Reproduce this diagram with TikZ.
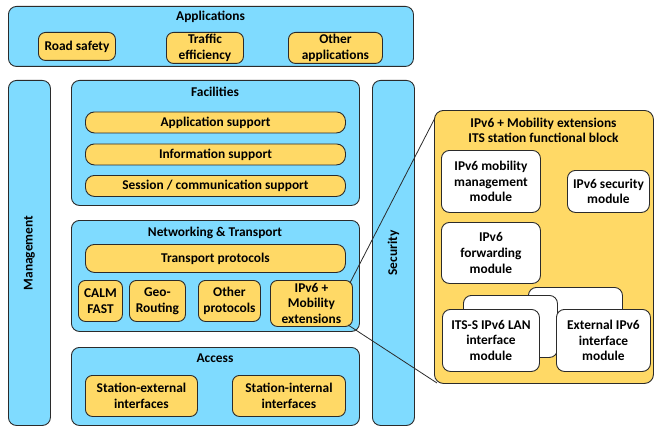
\documentclass[tikz,border=0pt]{standalone}
\usepackage{fontspec}
\setmainfont{Carlito}
\definecolor{lblue}{HTML}{7FDBFF}
\definecolor{lyel}{HTML}{FFD966}
\definecolor{edge}{HTML}{2B2B2B}
\begin{document}
\begin{tikzpicture}[x=1pt,y=-1pt,
  every node/.style={font=\fontsize{13.4}{15.6}\selectfont\bfseries, text=black, inner sep=0pt, align=center},
  bluebox/.style={draw=edge, line width=0.9pt, fill=lblue, rounded corners=8pt, anchor=north west},
  yelbox/.style={draw=edge, line width=0.9pt, fill=lyel, rounded corners=7pt, anchor=north west},
  whitebox/.style={draw=edge, line width=0.9pt, fill=white, rounded corners=8pt, anchor=north west},
  ttl/.style={anchor=center}]
\useasboundingbox (0,0) rectangle (656,428);
% Applications
\node[bluebox, minimum width=405pt, minimum height=60pt] (app) at (8,6) {};
\node[ttl] (appt) at (210.5,17) {Applications};
\node[yelbox, minimum width=77pt, minimum height=28pt] (road) at (38,32) {Road safety};
\node[yelbox, minimum width=77pt, minimum height=31pt] (traf) at (166,32) {Traffic\\efficiency};
\node[yelbox, minimum width=94pt, minimum height=31pt] (oth) at (288,32) {Other\\applications};
% Management & Security
\node[bluebox, minimum width=42pt, minimum height=345pt] (mgmt) at (8,80) {};
\node[rotate=90] (mgmtt) at (mgmt.center) {Management};
\node[bluebox, minimum width=42pt, minimum height=345pt] (sec) at (372,80) {};
\node[rotate=90] (sect) at (sec.center) {Security};
% Facilities
\node[bluebox, minimum width=288pt, minimum height=125pt] (fac) at (71,80) {};
\node[ttl] (fact) at (215,92) {Facilities};
\node[yelbox, rounded corners=9pt, minimum width=260pt, minimum height=21pt] (as) at (85,111.5) {Application support};
\node[yelbox, rounded corners=9pt, minimum width=260pt, minimum height=21pt] (is) at (85,143.5) {Information support};
\node[yelbox, rounded corners=9pt, minimum width=260pt, minimum height=21pt] (ss) at (85,175) {Session / communication support};
% Networking & Transport
\node[bluebox, minimum width=288pt, minimum height=111pt] (net) at (71,220) {};
\node[ttl] (nett) at (215,233) {Networking \& Transport};
\node[yelbox, rounded corners=9pt, minimum width=260pt, minimum height=28pt] (tp) at (85,244) {Transport protocols};
\node[yelbox, minimum width=44pt, minimum height=41pt] (calm) at (78,280) {CALM\\FAST};
\node[yelbox, minimum width=56pt, minimum height=41pt] (geo) at (129,280) {Geo-\\Routing};
\node[yelbox, minimum width=62pt, minimum height=41pt] (op) at (198,280) {Other\\protocols};
\node[yelbox, minimum width=82pt, minimum height=46pt] (ipv6) at (270,280) {IPv6 +\\Mobility\\extensions};
% Access
\node[bluebox, minimum width=288pt, minimum height=78pt] (acc) at (71,347) {};
\node[ttl] (acct) at (215,358) {Access};
\node[yelbox, minimum width=112pt, minimum height=41pt] (se) at (85,375) {Station-external\\interfaces};
\node[yelbox, minimum width=113pt, minimum height=41pt] (si) at (232,375) {Station-internal\\interfaces};
% callout lines
\coordinate (p1) at (436,116);
\coordinate (p2) at (437,383);
\draw[edge, line width=0.8pt] ([shift={(-3,3)}]ipv6.north east) -- (p1);
\draw[edge, line width=0.8pt] ([shift={(-5,-2)}]ipv6.south east) -- (p2);
% panel
\node[yelbox, rounded corners=9pt, minimum width=219pt, minimum height=273pt] (panel) at (434,110) {};
\node[ttl] (panelt) at (543.5,130.5) {IPv6 + Mobility extensions\\ITS station functional block};
\node[whitebox, minimum width=99pt, minimum height=62pt] (mm) at (441,150) {IPv6 mobility\\management\\module};
\node[whitebox, minimum width=82pt, minimum height=42pt] (sm) at (567,170) {IPv6 security\\module};
\node[whitebox, minimum width=99pt, minimum height=61pt] (fm) at (441,222) {IPv6\\forwarding\\module};
\node[whitebox, minimum width=94pt, minimum height=62pt] (bk2) at (528,287) {};
\node[whitebox, minimum width=94pt, minimum height=62pt] (bk1) at (463,295) {};
\node[whitebox, minimum width=97pt, minimum height=62pt] (lan) at (442,309) {ITS-S IPv6 LAN\\interface\\module};
\node[whitebox, minimum width=94pt, minimum height=62pt] (ext) at (556,309) {External IPv6\\interface\\module};
\end{tikzpicture}
\end{document}
